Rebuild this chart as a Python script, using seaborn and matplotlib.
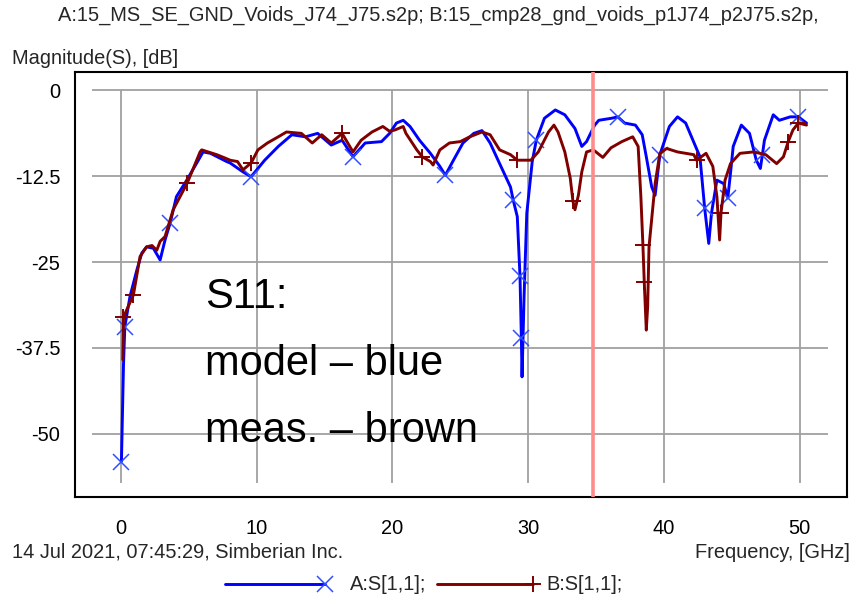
import numpy as np
import pandas as pd
import matplotlib
matplotlib.use("Agg")
import matplotlib.pyplot as plt
from matplotlib import font_manager
from matplotlib.lines import Line2D
import seaborn as sns

# -------------------------------------------------
# Style
# -------------------------------------------------
sns.set_theme(style="white")
plt.rcParams["font.family"] = ["Liberation Sans", "DejaVu Sans"]
plt.rcParams["axes.unicode_minus"] = False

installed = {f.name for f in font_manager.fontManager.ttflist}
if "Liberation Sans Narrow" in installed:
    SMALL_FONT = ["Liberation Sans Narrow", "Liberation Sans"]
    SMALL_SIZE = 16.5
else:
    SMALL_FONT = ["Liberation Sans", "DejaVu Sans"]
    SMALL_SIZE = 14.4

BLUE = "#0000ff"
BROWN = "#800000"
GRID = "#a0a0a0"
LW = 2.1

# -------------------------------------------------
# Data
# -------------------------------------------------
model_freq = [0.05, 0.2, 0.3, 0.68, 1.18, 1.55, 1.9, 2.4, 2.9, 3.26, 3.63, 4.1,
              4.86, 5.6, 6.06, 6.6, 7.8, 8.05, 9.0, 9.6, 10.6, 11.6, 12.6, 13.6,
              14.5, 15.5, 16.3, 17.1, 18.0, 19.2, 19.8, 20.3, 20.8, 21.3, 22.0,
              22.8, 23.5, 23.9, 24.5, 25.2, 26.0, 26.6, 27.2, 27.9, 28.7, 28.9,
              29.2, 29.4, 29.5, 29.55, 29.7, 29.9, 30.3, 30.6, 31.2, 32.0, 32.7,
              33.45, 33.95, 34.3, 34.9, 35.2, 36.15, 36.6, 37.1, 37.9, 38.4,
              38.7, 39.1, 39.35, 39.6, 39.7, 40.4, 41.0, 41.6, 42.65, 43.0, 43.3,
              43.5, 43.9, 44.4, 44.7, 44.9, 45.1, 45.7, 46.3, 46.8, 47.1, 47.25,
              47.4, 48.05, 48.5, 49.3, 49.9, 50.5]
model_db = [-54.0, -40.0, -34.4, -30.0, -26.2, -23.7, -22.8, -23.0, -24.7, -21.8,
            -19.4, -15.5, -13.1, -10.6, -9.0, -9.2, -10.4, -10.6, -11.9, -12.6,
            -10.2, -8.2, -6.5, -6.8, -6.3, -8.0, -7.3, -9.7, -7.7, -7.5, -6.3,
            -4.8, -4.4, -5.3, -7.3, -9.2, -11.1, -12.4, -10.2, -7.7, -6.3, -5.9,
            -7.7, -10.7, -14.1, -16.0, -18.4, -27.1, -36.0, -41.7, -30.0, -17.9,
            -10.4, -7.3, -4.1, -2.9, -3.6, -5.6, -8.2, -7.5, -5.1, -4.4, -4.1,
            -3.9, -4.8, -5.1, -6.5, -9.7, -14.1, -15.3, -11.1, -9.4, -5.3, -3.9,
            -4.8, -9.7, -17.2, -22.3, -17.9, -13.1, -13.6, -15.7, -12.1, -8.2,
            -5.1, -6.3, -10.2, -11.4, -9.4, -7.3, -3.6, -4.4, -3.9, -3.9, -4.8]
model_marks = [0.05, 0.3, 3.63, 9.6, 17.1, 23.9, 28.9, 29.4, 29.5, 30.6, 36.6,
               39.7, 43.0, 44.7, 47.25, 49.9]

meas_freq = [0.15, 0.2, 0.93, 1.42, 1.9, 2.3, 2.65, 2.9, 3.26, 3.86, 4.9, 5.84,
             5.96, 7.07, 7.7, 8.05, 8.6, 9.0, 9.6, 10.1, 10.8, 11.6, 12.2, 13.3,
             14.1, 14.8, 15.5, 16.3, 17.1, 17.7, 18.5, 19.3, 19.8, 20.2, 20.8,
             21.0, 21.8, 22.2, 22.8, 23.0, 23.5, 24.2, 25.0, 25.7, 26.6, 27.2,
             27.9, 28.7, 29.2, 30.2, 30.75, 31.5, 31.9, 32.2, 32.7, 33.1, 33.3,
             33.45, 33.7, 33.95, 34.3, 34.8, 35.5, 36.1, 36.9, 37.7, 38.1, 38.3,
             38.45, 38.55, 38.7, 38.8, 38.9, 39.35, 39.7, 40.2, 41.0, 42.2, 42.4,
             43.1, 43.6, 43.9, 44.1, 44.2, 44.5, 44.9, 45.6, 46.6, 47.5, 48.3,
             48.8, 49.15, 49.5, 49.9, 50.5]
meas_db = [-39.2, -33.0, -29.8, -24.2, -22.8, -22.6, -23.3, -22.0, -21.3, -17.4,
           -13.5, -9.0, -8.7, -9.4, -9.9, -10.2, -10.4, -11.6, -10.6, -8.7, -7.7,
           -6.8, -6.1, -6.3, -7.7, -6.5, -7.7, -6.3, -9.0, -7.3, -6.1, -5.3,
           -6.0, -5.8, -5.3, -6.3, -8.7, -9.7, -10.4, -10.9, -8.7, -7.7, -7.5,
           -6.8, -6.1, -6.5, -8.7, -9.4, -10.2, -10.2, -9.0, -6.1, -5.1, -6.1,
           -9.0, -12.8, -16.2, -17.4, -15.3, -11.9, -9.0, -8.7, -9.8, -8.4, -7.5,
           -6.8, -8.2, -15.5, -22.5, -27.9, -34.9, -31.5, -22.8, -13.6, -9.2,
           -8.5, -9.0, -9.4, -10.2, -9.2, -11.1, -15.5, -21.8, -17.9, -13.1,
           -10.7, -9.2, -9.0, -9.4, -10.7, -9.7, -7.5, -5.8, -4.8, -5.1]
meas_marks = [0.2, 0.93, 4.9, 9.6, 16.3, 22.2, 29.2, 33.3, 38.45, 38.55, 42.4,
              44.2, 49.15, 49.9]

marker_freq = 34.8

x_ticks = [0, 10, 20, 30, 40, 50]
y_ticks = [0, -12.5, -25, -37.5, -50]
y_tick_labels = ["0", "-12.5", "-25", "-37.5", "-50"]

title = ("A:15_MS_SE_GND_Voids_J74_J75.s2p; "
         "B:15_cmp28_gnd_voids_p1J74_p2J75.s2p,")

model = pd.DataFrame({"freq": model_freq, "db": model_db})
meas = pd.DataFrame({"freq": meas_freq, "db": meas_db})


def mark_index(freqs, marks):
    arr = np.asarray(freqs)
    return [int(np.argmin(np.abs(arr - m))) for m in marks]


# -------------------------------------------------
# Figure
# -------------------------------------------------
fig = plt.figure(figsize=(8.56, 6.10), dpi=100)
ax = fig.add_axes([75 / 856, 113 / 610, 772 / 856, 425 / 610])

# gridlines only cover the data window, not the full box
ax.hlines(y_ticks, -2.1, 52.1, color=GRID, lw=1.3, zorder=1)
ax.vlines(x_ticks, -57.1, 0, color=GRID, lw=1.3, zorder=1)

sns.lineplot(
    data=model, x="freq", y="db", ax=ax,
    color=BLUE, lw=LW, estimator=None, sort=False,
    marker="x", markersize=11, markeredgewidth=1.1,
    markeredgecolor="#3050ff", markevery=mark_index(model_freq, model_marks),
    zorder=3,
)
sns.lineplot(
    data=meas, x="freq", y="db", ax=ax,
    color=BROWN, lw=LW, estimator=None, sort=False,
    marker="+", markersize=12, markeredgewidth=1.4,
    markeredgecolor=BROWN, markevery=mark_index(meas_freq, meas_marks),
    zorder=4,
)

ax.axvline(marker_freq, color="#ff8c8c", lw=2.6, zorder=5)

ax.set_xlim(-3.37, 53.48)
ax.set_ylim(-59.16, 2.62)
ax.set_xticks(x_ticks)
ax.set_xticklabels([str(t) for t in x_ticks], family=SMALL_FONT)
ax.set_yticks(y_ticks)
ax.set_yticklabels(y_tick_labels, family=SMALL_FONT)
ax.set_xlabel("")
ax.set_ylabel("")
ax.grid(False)
ax.tick_params(axis="both", direction="inout", length=11, width=1.2,
               color="black", labelsize=SMALL_SIZE, labelcolor="black")
ax.tick_params(axis="x", pad=10)
ax.tick_params(axis="y", pad=5)
for s in ax.spines.values():
    s.set_color("black")
    s.set_linewidth(1.5)

# annotation inside the plot
for txt, yb in [("S11:", 0.445), ("model \u2013 blue", 0.287),
                ("meas. \u2013 brown", 0.130)]:
    ax.text(0.168, yb, txt, transform=ax.transAxes, fontsize=30,
            family=["Liberation Sans", "DejaVu Sans"], color="black",
            va="baseline", ha="left", zorder=6)

# header / footer texts
fig.text(438 / 856, 1 - 15 / 610, title, ha="center", va="center",
         family=SMALL_FONT, fontsize=SMALL_SIZE)
fig.text(12 / 856, 1 - 58 / 610, "Magnitude(S), [dB]", ha="left",
         va="center", family=SMALL_FONT, fontsize=SMALL_SIZE)
fig.text(12 / 856, 1 - 552 / 610, "14 Jul 2021, 07:45:29, Simberian Inc.",
         ha="left", va="center", family=SMALL_FONT, fontsize=SMALL_SIZE)
fig.text(850 / 856, 1 - 552 / 610, "Frequency, [GHz]", ha="right",
         va="center", family=SMALL_FONT, fontsize=SMALL_SIZE)

# legend drawn by hand: marker sits at the right end of each sample line
ly = 1 - 584 / 610
fig.add_artist(Line2D([225 / 856, 325 / 856], [ly, ly], color=BLUE, lw=LW,
                      marker="x", markersize=11, markeredgewidth=1.1,
                      markeredgecolor="#3050ff", markevery=[1],
                      transform=fig.transFigure))
fig.text(350 / 856, ly, "A:S[1,1];", ha="left", va="center",
         family=SMALL_FONT, fontsize=SMALL_SIZE)
fig.add_artist(Line2D([437 / 856, 533 / 856], [ly, ly], color=BROWN, lw=LW,
                      marker="+", markersize=12, markeredgewidth=1.4,
                      markevery=[1], transform=fig.transFigure))
fig.text(546 / 856, ly, "B:S[1,1];", ha="left", va="center",
         family=SMALL_FONT, fontsize=SMALL_SIZE)

fig.savefig("out.png", dpi=100)
